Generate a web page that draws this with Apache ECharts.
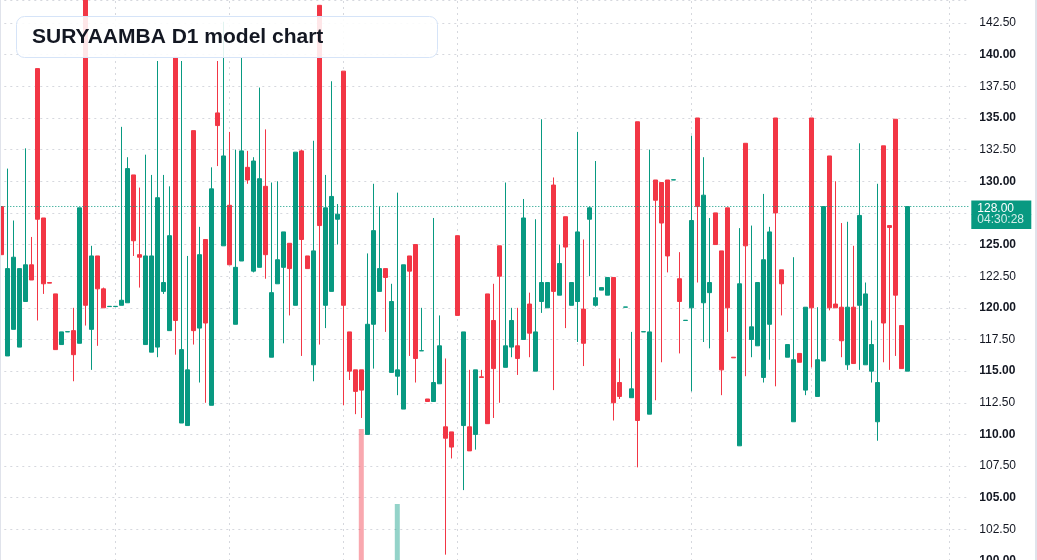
<!DOCTYPE html>
<html>
<head>
<meta charset="utf-8">
<title>SURYAAMBA D1 model chart</title>
<script src="https://cdn.jsdelivr.net/npm/echarts@6.0.0/dist/echarts.min.js"></script>
<style>
  html, body { margin: 0; padding: 0; background: #fff; overflow: hidden; }
  #chart { position: relative; width: 1037px; height: 560px; }
  .edge { position: absolute; top: 0; width: 1px; height: 560px; background: #e0e3eb; }
</style>
</head>
<body>
<div id="chart"></div>
<div class="edge" style="left:0"></div>
<div class="edge" style="left:1035px;width:2px"></div>
<script>
/*
    SURYAAMBA 日线 K 线图
*/
// 每日 开 / 高 / 低 / 收
const opens = [
  128.0, 116.2, 118.3, 116.9, 120.5, 123.4, 138.9, 127.1, 122.0, 121.1,
  117.1, 118.1, 118.2, 117.2, 146.0, 118.3, 124.1, 121.5, 120.1, 120.1,
  120.2, 120.4, 130.5, 124.2, 117.1, 116.5, 116.9, 121.3, 118.2, 139.8,
  110.9, 110.7, 134.0, 118.4, 125.4, 112.3, 135.4, 124.9, 128.1, 118.7,
  123.7, 131.1, 122.9, 123.2, 129.6, 116.1, 121.9, 123.2, 125.1, 120.2,
  132.4, 124.1, 115.5, 143.9, 120.2, 121.3, 127.0, 138.7, 118.1, 115.1,
  115.1, 110.0, 118.7, 121.3, 123.1, 114.9, 114.6, 112.0, 124.1, 125.0,
  116.6, 112.8, 112.6, 114.0, 110.6, 110.2, 125.7, 110.7, 110.6, 110.0,
  114.55, 121.1, 119.0, 124.9, 115.3, 116.9, 117.0, 117.5, 120.3, 115.0,
  120.5, 120.0, 129.7, 121.0, 127.2, 120.2, 120.5, 119.9, 127.0, 120.2,
  121.4, 121.0, 122.4, 114.1, 120.05, 112.9, 134.7, 118.1, 111.6, 130.1,
  129.9, 130.1, 130.1, 122.3, 119.0, 120.0, 135.0, 120.4, 121.2, 127.5,
  124.5, 127.9, 116.1, 109.1, 133.0, 117.5, 117.0, 114.5, 118.7, 135.0,
  123.0, 116.1, 111.0, 116.4, 113.5, 135.0, 113.0, 115.8, 132.0, 120.3,
  120.05, 115.5, 120.05, 120.2, 115.5, 115.0, 111.0, 132.8, 126.5, 134.9,
  118.6, 115.0
];
const highs = [
  128.0, 131.0, 126.9, 123.1, 132.6, 125.6, 138.9, 127.1, 122.0, 121.1,
  118.1, 118.12, 120.0, 127.9, 146.0, 124.9, 124.1, 121.6, 120.12, 120.12,
  134.3, 131.9, 130.5, 129.5, 132.1, 130.5, 139.5, 130.5, 129.6, 139.8,
  139.5, 124.1, 134.0, 126.4, 125.4, 131.1, 139.5, 142.6, 133.9, 132.5,
  139.8, 132.4, 131.9, 137.4, 134.1, 129.9, 130.0, 126.0, 125.1, 132.3,
  132.5, 124.1, 133.2, 143.9, 130.5, 137.9, 128.2, 138.7, 118.1, 115.1,
  115.1, 124.3, 129.8, 128.0, 123.1, 121.9, 129.1, 123.4, 124.1, 125.0,
  120.0, 112.8, 127.1, 119.4, 116.0, 110.2, 125.7, 118.1, 115.1, 115.1,
  115.1, 121.1, 121.9, 124.9, 129.9, 120.0, 120.0, 128.6, 121.2, 127.0,
  134.9, 122.0, 130.3, 125.0, 127.2, 122.0, 133.9, 125.4, 128.0, 131.6,
  121.6, 122.4, 122.4, 116.0, 120.07, 118.1, 134.7, 118.12, 132.5, 130.1,
  129.9, 130.1, 130.12, 124.4, 119.02, 133.6, 135.0, 131.9, 127.1, 127.5,
  124.5, 127.9, 116.1, 126.3, 133.0, 126.5, 122.0, 129.0, 126.4, 135.0,
  123.0, 117.1, 124.0, 116.4, 120.05, 135.0, 120.05, 128.0, 132.0, 130.0,
  126.7, 126.8, 124.9, 133.0, 122.0, 119.0, 129.8, 132.8, 126.5, 134.9,
  118.6, 128.0
];
const lows = [
  124.2, 116.2, 118.3, 116.9, 120.5, 122.2, 119.0, 121.1, 121.95, 116.7,
  117.1, 118.1, 114.2, 117.2, 118.6, 115.1, 117.0, 120.0, 120.1, 120.1,
  120.2, 120.4, 124.1, 121.6, 117.1, 116.5, 116.1, 121.1, 118.2, 116.3,
  110.9, 110.7, 117.1, 114.1, 112.5, 112.3, 131.2, 124.9, 123.4, 118.7,
  123.7, 129.8, 122.8, 123.2, 122.3, 116.1, 121.9, 117.2, 119.4, 120.2,
  116.2, 123.1, 114.2, 117.1, 118.4, 121.3, 125.0, 112.3, 114.3, 111.6,
  111.3, 110.0, 115.2, 121.3, 118.1, 114.9, 113.1, 112.0, 116.2, 114.1,
  116.6, 112.6, 112.6, 114.0, 100.5, 108.1, 119.4, 105.6, 108.7, 108.8,
  114.5, 110.85, 111.3, 112.5, 115.3, 116.1, 114.7, 117.5, 116.1, 115.0,
  119.6, 120.0, 113.5, 121.0, 118.4, 120.2, 117.3, 115.4, 122.5, 120.1,
  121.4, 121.0, 111.1, 112.8, 120.05, 112.9, 107.4, 118.1, 111.6, 112.7,
  115.7, 122.8, 130.1, 116.4, 119.0, 113.4, 122.0, 117.3, 116.8, 125.0,
  113.1, 118.1, 116.05, 109.1, 114.6, 116.1, 117.0, 114.1, 115.9, 113.8,
  119.4, 116.1, 111.0, 115.7, 113.1, 115.3, 113.0, 115.8, 119.8, 120.0,
  116.1, 115.1, 115.6, 115.1, 115.5, 114.1, 109.5, 115.7, 115.1, 116.2,
  115.2, 115.0
];
const closes = [
  124.2, 123.1, 124.0, 123.1, 123.4, 122.2, 127.0, 121.9, 121.95, 116.7,
  118.1, 118.12, 116.3, 127.9, 120.2, 124.1, 121.5, 120.0, 120.12, 120.12,
  120.6, 131.0, 125.3, 124.0, 124.1, 124.1, 128.7, 122.0, 125.7, 119.0,
  116.7, 115.1, 118.2, 124.2, 118.8, 129.4, 134.4, 132.0, 123.4, 123.2,
  132.4, 130.1, 131.6, 130.2, 124.2, 121.2, 123.8, 126.0, 123.1, 132.3,
  125.4, 123.1, 124.5, 126.5, 127.9, 128.8, 127.4, 120.2, 115.0, 113.4,
  113.5, 118.7, 126.1, 123.1, 122.4, 120.5, 115.1, 123.4, 122.9, 116.0,
  116.62, 112.6, 114.1, 117.0, 109.7, 109.0, 119.4, 118.1, 108.7, 115.1,
  114.5, 110.85, 115.2, 122.5, 117.0, 119.0, 116.0, 127.1, 118.0, 118.1,
  122.0, 122.0, 121.3, 123.5, 124.8, 122.0, 126.0, 117.2, 127.9, 120.8,
  121.6, 122.4, 112.5, 113.0, 120.07, 113.6, 111.1, 118.12, 118.1, 128.5,
  126.7, 124.1, 130.12, 120.5, 119.02, 126.9, 128.0, 128.9, 122.0, 125.0,
  115.1, 120.0, 116.05, 121.9, 124.9, 118.5, 122.0, 123.8, 126.0, 127.5,
  121.9, 117.1, 115.9, 115.7, 120.05, 120.0, 115.9, 128.0, 120.0, 120.0,
  117.4, 120.05, 115.6, 127.3, 121.1, 117.1, 114.1, 118.8, 126.35, 121.0,
  115.2, 128.0
];
// 成交量(只有两天能看到)
const volumes = [
  0, 0, 0, 0, 0, 0, 0, 0, 0, 0,
  0, 0, 0, 0, 0, 0, 0, 0, 0, 0,
  0, 0, 0, 0, 0, 0, 0, 0, 0, 0,
  0, 0, 0, 0, 0, 0, 0, 0, 0, 0,
  0, 0, 0, 0, 0, 0, 0, 0, 0, 0,
  0, 0, 0, 0, 0, 0, 0, 0, 0, 0,
  2640, 0, 0, 0, 0, 0, 1140, 0, 0, 0,
  0, 0, 0, 0, 0, 0, 0, 0, 0, 0,
  0, 0, 0, 0, 0, 0, 0, 0, 0, 0,
  0, 0, 0, 0, 0, 0, 0, 0, 0, 0,
  0, 0, 0, 0, 0, 0, 0, 0, 0, 0,
  0, 0, 0, 0, 0, 0, 0, 0, 0, 0,
  0, 0, 0, 0, 0, 0, 0, 0, 0, 0,
  0, 0, 0, 0, 0, 0, 0, 0, 0, 0,
  0, 0, 0, 0, 0, 0, 0, 0, 0, 0,
  0, 0
];
// 月份分隔线所在的 K 线序号
const monthLines = [19, 38, 57, 76, 96, 115, 135, 158];
const countdown = "04:30:28";
const rightPad = 10; // 右侧留白的空位数

const UP = "#089981";
const DOWN = "#F23645";
const FONT = '"Liberation Sans", Arial, sans-serif';

// 类目:K 线序号 + 右侧空位
let days = [];
for (let i = 0; i < opens.length + rightPad; i++) {
  days.push(String(i));
}
// echarts 的 K 线格式 [open, close, low, high]
let candles = [];
let volData = [];
for (let i = 0; i < opens.length; i++) {
  candles.push([opens[i], closes[i], lows[i], highs[i]]);
  volData.push({
    value: volumes[i],
    itemStyle: {
      color: closes[i] >= opens[i] ? "rgba(8,153,129,0.43)" : "rgba(242,54,69,0.43)",
    },
  });
}
const lastClose = closes[closes.length - 1];

let myChart = echarts.init(document.getElementById("chart"));
let option = {
  animation: false,
  backgroundColor: "#ffffff",
  title: {
    text: "SURYAAMBA D1 model chart",
    left: 16,
    top: 16,
    padding: [10, 114, 10, 16],
    backgroundColor: "rgba(255,255,255,0.88)",
    borderColor: "#d6e4f8",
    borderWidth: 1,
    borderRadius: 8,
    textStyle: {
      fontFamily: FONT,
      fontSize: 21,
      lineHeight: 22,
      fontWeight: "bold",
      color: "#131722",
    },
  },
  grid: {
    left: -1.7,
    right: 66.7,
    top: 0,
    bottom: -1,
    outerBoundsMode: "none",
    containLabel: false,
  },
  xAxis: {
    type: "category",
    data: days,
    boundaryGap: true,
    axisLine: { show: false },
    axisTick: { show: false },
    axisLabel: { show: false },
    splitLine: { show: false },
  },
  yAxis: [
    {
      type: "value",
      position: "right",
      min: 100,
      max: 144.32,
      interval: 2.5,
      axisLine: { show: false },
      axisTick: { show: false },
      axisLabel: {
        showMaxLabel: false,
        margin: 9,
        formatter: function (v) {
          const bold = Math.round(v * 100) % 500 === 0;
          return (bold ? "{b|" : "{n|") + v.toFixed(2) + "}";
        },
        rich: {
          b: { fontFamily: FONT, fontSize: 12, fontWeight: "bold", color: "#131722" },
          n: { fontFamily: FONT, fontSize: 12, color: "#131722" },
        },
      },
      splitLine: {
        show: true,
        lineStyle: { color: "#d6d8de", type: [2, 4], width: 1 },
      },
    },
    {
      type: "value",
      min: 0,
      max: 11220,
      show: false,
      splitLine: { show: false },
    },
  ],
  series: [
    {
      name: "volume",
      type: "bar",
      yAxisIndex: 1,
      barWidth: 5,
      z: 1,
      data: volData,
      // 月份竖线,放在 K 线下面
      markLine: {
        silent: true,
        z: 0,
        symbol: "none",
        label: { show: false },
        lineStyle: { color: "#d6d8de", type: [2, 4], width: 1 },
        data: monthLines.map(function (i) {
          return { xAxis: i };
        }),
      },
    },
    {
      name: "SURYAAMBA",
      type: "candlestick",
      barWidth: 4,
      z: 2,
      data: candles,
      itemStyle: {
        color: UP,
        color0: DOWN,
        borderColor: UP,
        borderColor0: DOWN,
        borderWidth: 1,
      },
      // 最新价虚线 + 右侧价格标签
      markLine: {
        silent: true,
        symbol: "none",
        lineStyle: { color: UP, type: [1, 2], width: 1 },
        label: {
          show: true,
          position: "end",
          distance: 1,
          formatter: "{s| }\n{p|" + lastClose.toFixed(2) + "}\n{t|" + countdown + "}",
          rich: {
            s: { fontSize: 12, lineHeight: 16 },
            p: {
              fontFamily: FONT,
              fontSize: 12,
              lineHeight: 14,
              color: "#ffffff",
              backgroundColor: UP,
              width: 48,
              padding: [2, 6, 0, 6],
            },
            t: {
              fontFamily: FONT,
              fontSize: 12,
              lineHeight: 14,
              color: "rgba(255,255,255,0.82)",
              backgroundColor: UP,
              width: 48,
              padding: [0, 6, 3, 6],
            },
          },
        },
        data: [{ yAxis: lastClose }],
      },
    },
  ],
};
myChart.setOption(option);
</script>
</body>
</html>
